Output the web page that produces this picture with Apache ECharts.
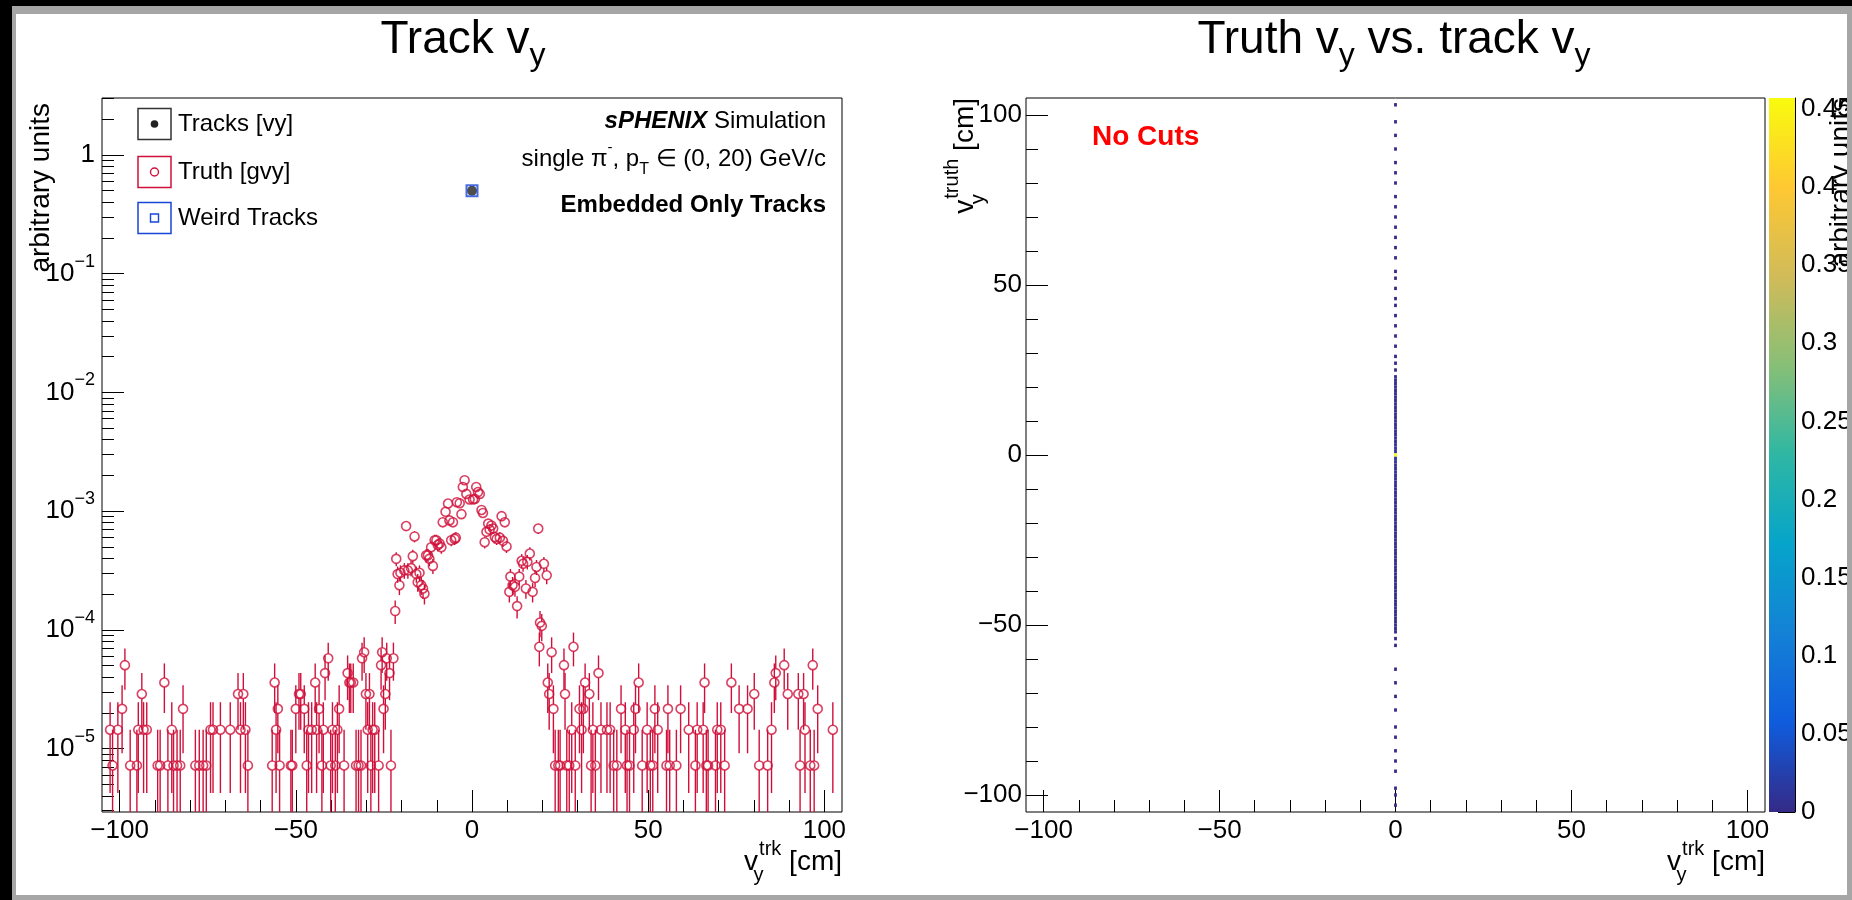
<!DOCTYPE html>
<html>
<head>
<meta charset="utf-8">
<title>Track vy</title>
<script src="https://cdn.jsdelivr.net/npm/echarts@6.0.0/dist/echarts.min.js"></script>
<style>
  html, body { margin: 0; padding: 0; background: #000; }
  #chart { width: 1852px; height: 900px; }
</style>
</head>
<body>
<div id="chart"></div>
<script>
// ---------------- axis ticks ----------------
const xMajorTicks = [-100, -50, 0, 50, 100];
const xMinorTicks = [-100, -90, -80, -70, -60, -50, -40, -30, -20, -10, 0, 10, 20, 30, 40, 50, 60, 70, 80, 90, 100];
const logMajorTicks = [1e-5, 1e-4, 1e-3, 1e-2, 1e-1, 1];
const logMinorTicks = [
  3e-6, 4e-6, 5e-6, 6e-6, 7e-6, 8e-6, 9e-6,
  2e-5, 3e-5, 4e-5, 5e-5, 6e-5, 7e-5, 8e-5, 9e-5,
  2e-4, 3e-4, 4e-4, 5e-4, 6e-4, 7e-4, 8e-4, 9e-4,
  2e-3, 3e-3, 4e-3, 5e-3, 6e-3, 7e-3, 8e-3, 9e-3,
  0.02, 0.03, 0.04, 0.05, 0.06, 0.07, 0.08, 0.09,
  0.2, 0.3, 0.4, 0.5, 0.6, 0.7, 0.8, 0.9,
  2, 3
];
const zTicks = [0, 0.05, 0.1, 0.15, 0.2, 0.25, 0.3, 0.35, 0.4, 0.45];

// ---------------- left panel: 1D vy histograms ----------------
// weight of a single entry in the normalised truth histogram
const entryWeight = 7.2e-6;
// truth vy: [bin centre (cm), entries]
const truthBins = [
  [-102.7, 2], [-102.0, 1], [-100.5, 2], [-99.3, 3], [-98.5, 7], [-97.0, 1], [-95.1, 1], [-94.7, 2],
  [-93.7, 4], [-93.2, 2], [-92.3, 2], [-89.2, 1], [-88.5, 1], [-87.3, 5], [-86.3, 1], [-85.2, 2],
  [-84.7, 1], [-83.7, 1], [-82.8, 1], [-82.0, 3], [-78.5, 1], [-77.4, 1], [-76.3, 1], [-75.4, 1],
  [-74.2, 2], [-73.5, 2], [-71.4, 2], [-68.6, 2], [-66.4, 4], [-65.7, 2], [-64.9, 4], [-64.3, 2],
  [-63.6, 1], [-56.7, 1], [-56.0, 5], [-55.6, 2], [-55.1, 3], [-54.6, 1], [-51.4, 1], [-51.0, 1],
  [-50.0, 3], [-49.1, 4], [-48.6, 4], [-47.6, 3], [-46.9, 1], [-46.4, 2], [-45.5, 2], [-44.5, 5],
  [-44.1, 2], [-43.4, 3], [-42.6, 1], [-42.2, 2], [-41.7, 6], [-40.8, 8], [-40.1, 1], [-39.6, 2],
  [-38.8, 1], [-38.2, 2], [-37.7, 3], [-36.3, 1], [-35.3, 6], [-34.8, 5], [-34.4, 5], [-33.7, 5],
  [-32.9, 1], [-32.2, 1], [-31.5, 1], [-31.2, 8], [-30.6, 9], [-30.1, 4], [-29.6, 2], [-29.1, 4],
  [-28.7, 1], [-28.2, 2], [-27.6, 2], [-26.5, 1], [-25.8, 7], [-25.5, 9], [-25.1, 3], [-24.6, 4],
  [-24.2, 8], [-23.4, 6], [-23.0, 1], [-22.3, 8], [-21.8, 20], [-21.5, 55], [-21.1, 41], [-20.6, 33],
  [-20.3, 42], [-19.2, 44], [-18.7, 104], [-18.2, 44], [-17.3, 46], [-16.8, 58], [-16.3, 85], [-15.8, 41],
  [-15.4, 35], [-14.9, 42], [-14.4, 33], [-13.9, 31], [-13.5, 28],
  [-13.0, 59], [-12.5, 59], [-12.1, 55], [-11.6, 69], [-11.1, 48], [-10.6, 79], [-10.1, 79], [-9.7, 72],
  [-9.2, 74], [-8.7, 69], [-8.3, 112], [-7.5, 137], [-6.8, 161], [-6.4, 116], [-5.9, 79], [-5.4, 112],
  [-4.9, 81], [-4.6, 83], [-4.3, 165], [-3.5, 162], [-3.0, 131], [-2.6, 222], [-2.1, 253], [-1.6, 194],
  [-0.7, 174], [0.3, 174], [0.8, 176], [1.2, 222], [1.7, 201], [2.2, 194], [2.7, 142], [3.1, 134],
  [3.6, 76], [4.1, 93], [4.6, 109], [5.0, 97], [5.5, 105], [6.0, 99], [6.5, 84], [7.0, 81],
  [7.9, 83], [8.4, 126], [8.8, 78], [9.3, 112], [9.8, 70], [10.6, 29], [10.9, 39], [11.5, 33],
  [12.2, 32], [12.8, 22], [13.4, 39], [14.1, 53], [14.5, 50], [15.3, 31], [15.7, 52], [16.4, 61],
  [17.2, 29], [17.9, 38], [18.3, 47], [18.8, 99], [19.1, 10], [19.3, 16], [19.8, 15], [20.4, 50],
  [21.2, 40],
  [21.5, 5], [21.9, 4], [22.6, 9], [23.1, 3], [23.6, 1], [24.5, 1], [25.0, 1], [26.1, 7],
  [26.4, 4], [26.9, 1], [27.6, 1], [28.3, 2], [28.8, 10], [29.3, 1], [30.5, 3], [31.1, 2],
  [31.6, 3], [32.1, 5], [33.3, 4], [33.8, 1], [34.3, 2], [35.0, 1], [35.9, 6], [36.6, 2],
  [38.3, 2], [39.2, 2], [40.2, 1], [41.1, 1], [42.3, 3], [43.5, 2], [44.0, 1], [44.7, 1],
  [45.9, 2], [46.4, 3], [47.3, 5], [48.3, 1], [49.7, 2], [50.6, 1], [51.3, 1], [51.9, 3],
  [52.7, 2], [55.2, 1], [55.6, 3], [56.1, 1], [58.0, 1], [59.2, 3], [61.5, 2], [63.4, 1],
  [63.9, 2], [65.6, 2], [66.0, 5], [66.5, 1], [67.0, 1], [69.1, 1], [69.6, 2], [70.6, 2],
  [71.7, 1], [73.6, 5], [75.8, 3], [78.2, 3], [80.1, 4], [81.5, 1], [83.9, 1], [85.0, 2],
  [85.8, 5], [86.2, 6], [88.6, 7], [89.6, 4], [92.6, 4], [93.1, 1], [94.1, 4], [94.5, 2],
  [96.0, 1], [96.7, 7], [97.1, 1], [98.1, 3], [102.4, 2]
];
// reconstructed tracks: [vy (cm), fraction]
const tracksPoints = [[0, 0.5]];
const weirdPoints = [[0, 0.5]];

// ---------------- right panel: truth vy vs. track vy ----------------
const trackBinX = 0;
// cells of the column at track vy = 0: [truth vy bin centre (cm), fraction]
const cellsAtZero = [
  [103, 0.0005], [98, 0.0005], [94, 0.0005], [90, 0.0005], [86, 0.0005], [83, 0.0005], [80, 0.0005],
  [76, 0.0005], [73, 0.0005], [70, 0.0005], [67, 0.0005], [64, 0.0005], [61, 0.0005], [58, 0.0005],
  [54, 0.0005], [52, 0.0005], [49, 0.0005], [46, 0.0005], [44, 0.0005], [41, 0.0005], [38, 0.0005],
  [35, 0.0005], [32, 0.0005], [29, 0.0005], [27, 0.0005], [25, 0.0005],
  [23, 0.001], [22, 0.001], [21, 0.002], [20, 0.001], [19, 0.002], [18, 0.002], [17, 0.002], [16, 0.003],
  [15, 0.002], [14, 0.003], [13, 0.003], [12, 0.004], [11, 0.003], [10, 0.004], [9, 0.004], [8, 0.005],
  [7, 0.005], [6, 0.006], [5, 0.006], [4, 0.007], [3, 0.008], [2, 0.009], [1, 0.012], [0, 0.457],
  [-1, 0.012], [-2, 0.009], [-3, 0.008], [-4, 0.008], [-5, 0.007], [-6, 0.006], [-7, 0.006], [-8, 0.006],
  [-9, 0.005], [-10, 0.005], [-11, 0.005], [-12, 0.004], [-13, 0.004], [-14, 0.004], [-15, 0.004],
  [-16, 0.003], [-17, 0.003], [-18, 0.003], [-19, 0.003], [-20, 0.003], [-21, 0.003], [-22, 0.002],
  [-23, 0.002], [-24, 0.002], [-25, 0.002], [-26, 0.002], [-27, 0.002], [-28, 0.002], [-29, 0.002],
  [-30, 0.002], [-31, 0.002], [-32, 0.002], [-33, 0.001], [-34, 0.002], [-35, 0.001], [-36, 0.001],
  [-37, 0.002], [-38, 0.001], [-39, 0.001], [-40, 0.001], [-41, 0.001], [-42, 0.001], [-43, 0.001],
  [-44, 0.001], [-45, 0.001], [-46, 0.001], [-47, 0.001], [-48, 0.001], [-49, 0.001], [-50, 0.001],
  [-51, 0.001], [-52, 0.001],
  [-54, 0.0005], [-56, 0.0005], [-63, 0.0005], [-67, 0.0005], [-71, 0.0005], [-75, 0.0005], [-80, 0.0005],
  [-83, 0.0005], [-87, 0.0005], [-90, 0.0005], [-93, 0.0005], [-98, 0.0005], [-100, 0.0005], [-103, 0.0005]
];
const zMax = 0.457;
// kBird palette stops
const birdPalette = ['#352a87', '#0f5cdd', '#1481d6', '#06a4ca', '#2eb7a4', '#87bf77', '#d1bb59', '#fec832', '#f9fb0e'];

// ---------------- styling ----------------
const FONT = "'Liberation Sans', Arial, Helvetica, sans-serif";
const RED = '#d0103a';
const BLUE = '#1846d8';
const DARK = '#222222';
const LOG_MIN = 2.92e-6;
const LOG_MAX = 3.02;
const CELL_HALF_W = 0.4;
const CELL_HALF_H = 0.5;
const MARKER_R = 4.5;

const minusSign = v => String(v).replace('-', '\u2212');
const tickLine = { color: '#000', width: 1 };
const labelFont = { color: '#000', fontFamily: FONT, fontSize: 26 };

const truthPoints = truthBins.map(([x, n]) => [x, n * entryWeight, Math.sqrt(n) * entryWeight]);
const heatCells = cellsAtZero.map(([y, w]) => [trackBinX, y, w]);

function majorXAxis(gridIndex) {
  return {
    gridIndex, type: 'value', min: -105, max: 105, position: 'bottom',
    axisLine: { show: false, onZero: false },
    splitLine: { show: false },
    axisTick: { inside: true, length: 22, customValues: xMajorTicks, lineStyle: tickLine },
    axisLabel: Object.assign({ customValues: xMajorTicks, margin: 6, formatter: minusSign }, labelFont)
  };
}
function minorXAxis(gridIndex) {
  return {
    gridIndex, type: 'value', min: -105, max: 105, position: 'bottom', offset: 0,
    axisLine: { show: false, onZero: false },
    splitLine: { show: false },
    axisTick: { inside: true, length: 12, customValues: xMinorTicks, lineStyle: tickLine },
    axisLabel: { show: false }
  };
}

const chart = echarts.init(document.getElementById('chart'), null, { renderer: 'canvas', width: 1852, height: 900 });

// small helper for free text
function label(x, y, text, style, extra) {
  return Object.assign({
    type: 'text', x, y, z: 40,
    style: Object.assign({ text, fill: '#000', fontFamily: FONT, fontSize: 24, align: 'left', verticalAlign: 'middle' }, style)
  }, extra || {});
}

const richTitle = {
  a: { fontSize: 46, fontFamily: FONT, lineHeight: 64, fill: '#000' },
  s: { fontSize: 32, fontFamily: FONT, lineHeight: 32, verticalAlign: 'bottom', fill: '#000' }
};
// "v" with stacked subscript / superscript: the subscript token is 1px wide so the
// superscript starts at the same place
const richAxisTitle = {
  v: { fontSize: 28, fontFamily: FONT, lineHeight: 46, fill: '#000' },
  d: { fontSize: 20, fontFamily: FONT, lineHeight: 20, verticalAlign: 'bottom', width: 1, align: 'left', fill: '#000' },
  u: { fontSize: 20, fontFamily: FONT, lineHeight: 20, verticalAlign: 'top', align: 'left', fill: '#000' }
};
const richInfo = {
  n: { fontSize: 24, fontFamily: FONT, lineHeight: 38, fill: '#000' },
  bi: { fontSize: 24, fontFamily: FONT, fontWeight: 'bold', fontStyle: 'italic', lineHeight: 38, fill: '#000' },
  u: { fontSize: 15, fontFamily: FONT, lineHeight: 15, verticalAlign: 'top', fill: '#000' },
  d: { fontSize: 16, fontFamily: FONT, lineHeight: 16, verticalAlign: 'bottom', fill: '#000' }
};

const legendRows = [
  { y: 124, text: 'Tracks [vy]', box: '#333333' },
  { y: 172, text: 'Truth [gvy]', box: RED },
  { y: 218, text: 'Weird Tracks', box: BLUE }
];
const legendGraphics = [];
legendRows.forEach(row => {
  legendGraphics.push({ type: 'rect', z: 40, shape: { x: 138, y: row.y - 15.5, width: 33, height: 31 }, style: { fill: 'none', stroke: row.box, lineWidth: 1.5 } });
  legendGraphics.push(label(178, row.y, row.text));
});
legendGraphics.push({ type: 'circle', z: 41, shape: { cx: 154.5, cy: 124, r: 3.8 }, style: { fill: DARK } });
legendGraphics.push({ type: 'circle', z: 41, shape: { cx: 154.5, cy: 172, r: 4 }, style: { fill: 'none', stroke: RED, lineWidth: 1.4 } });
legendGraphics.push({ type: 'rect', z: 41, shape: { x: 150.5, y: 214, width: 8, height: 8 }, style: { fill: 'none', stroke: BLUE, lineWidth: 1.4 } });

const frameBands = [
  { type: 'rect', z: 100, shape: { x: 0, y: 0, width: 1852, height: 6 }, style: { fill: '#000' } },
  { type: 'rect', z: 100, shape: { x: 0, y: 0, width: 12, height: 900 }, style: { fill: '#000' } },
  { type: 'rect', z: 100, shape: { x: 12, y: 6, width: 1840, height: 8 }, style: { fill: '#a6a6a6' } },
  { type: 'rect', z: 100, shape: { x: 12, y: 6, width: 4, height: 894 }, style: { fill: '#a6a6a6' } },
  { type: 'rect', z: 100, shape: { x: 1847, y: 6, width: 5, height: 894 }, style: { fill: '#a6a6a6' } },
  { type: 'rect', z: 100, shape: { x: 12, y: 895, width: 1840, height: 5 }, style: { fill: '#a6a6a6' } }
];

const option = {
  animation: false,
  backgroundColor: '#ffffff',
  grid: [
    { left: 102, top: 98, width: 740, height: 714, show: true, borderColor: '#000', borderWidth: 1, backgroundColor: 'transparent', outerBoundsMode: 'none' },
    { left: 1026, top: 98, width: 739, height: 714, show: true, borderColor: '#000', borderWidth: 1, backgroundColor: 'transparent', outerBoundsMode: 'none' },
    { left: 1769, top: 98, width: 26, height: 714, show: false, outerBoundsMode: 'none' }
  ],
  xAxis: [
    majorXAxis(0), minorXAxis(0),
    majorXAxis(1), minorXAxis(1),
    { gridIndex: 2, type: 'value', min: 0, max: 1, show: false }
  ],
  yAxis: [
    {
      gridIndex: 0, type: 'log', logBase: 10, min: LOG_MIN, max: LOG_MAX, position: 'left',
      axisLine: { show: false, onZero: false }, splitLine: { show: false },
      axisTick: { inside: true, length: 22, customValues: logMajorTicks, lineStyle: tickLine },
      axisLabel: {
        customValues: logMajorTicks, margin: 7,
        formatter: v => {
          const e = Math.round(Math.log10(v));
          return e === 0 ? '{b|1}' : '{b|10}{e|\u2212' + (-e) + '}';
        },
        rich: {
          b: { color: '#000', fontFamily: FONT, fontSize: 26, lineHeight: 42 },
          e: { color: '#000', fontFamily: FONT, fontSize: 18, lineHeight: 18, verticalAlign: 'top' }
        }
      }
    },
    {
      gridIndex: 0, type: 'log', logBase: 10, min: LOG_MIN, max: LOG_MAX, position: 'left', offset: 0,
      axisLine: { show: false, onZero: false }, splitLine: { show: false },
      axisTick: { inside: true, length: 12, customValues: logMinorTicks, lineStyle: tickLine },
      axisLabel: { show: false }
    },
    {
      gridIndex: 1, type: 'value', min: -105, max: 105, position: 'left',
      axisLine: { show: false, onZero: false }, splitLine: { show: false },
      axisTick: { inside: true, length: 22, customValues: xMajorTicks, lineStyle: tickLine },
      axisLabel: Object.assign({ customValues: xMajorTicks, margin: 4, formatter: minusSign }, labelFont)
    },
    {
      gridIndex: 1, type: 'value', min: -105, max: 105, position: 'left', offset: 0,
      axisLine: { show: false, onZero: false }, splitLine: { show: false },
      axisTick: { inside: true, length: 12, customValues: xMinorTicks, lineStyle: tickLine },
      axisLabel: { show: false }
    },
    {
      gridIndex: 2, type: 'value', min: 0, max: zMax, position: 'right',
      axisLine: { show: true, onZero: false, lineStyle: tickLine }, splitLine: { show: false },
      axisTick: { inside: true, length: 17, customValues: zTicks, lineStyle: tickLine },
      axisLabel: Object.assign({ customValues: zTicks, margin: 6, formatter: v => String(Math.round(v * 100) / 100) }, labelFont)
    }
  ],
  visualMap: {
    type: 'continuous', show: false, min: 0, max: zMax, dimension: 2, seriesIndex: 4,
    inRange: { color: birdPalette }
  },
  series: [
    {
      // vertical Poisson error bars of the truth histogram
      name: 'Truth errors', type: 'custom', xAxisIndex: 0, yAxisIndex: 0,
      dimensions: ['x', 'y', 'err'], encode: { x: 0, y: 1 }, silent: true,
      data: truthPoints,
      renderItem: (params, api) => {
        const x = api.value(0), y = api.value(1), e = api.value(2);
        const cs = params.coordSys;
        const c = api.coord([x, y]);
        const top = Math.max(cs.y, api.coord([x, y + e])[1]);
        const bottom = (y - e) > 1e-12 ? Math.min(cs.y + cs.height, api.coord([x, y - e])[1]) : cs.y + cs.height;
        const children = [];
        const st = { stroke: RED, lineWidth: 1.4 };
        if (c[1] - MARKER_R > top) children.push({ type: 'line', shape: { x1: c[0], y1: top, x2: c[0], y2: c[1] - MARKER_R }, style: st });
        if (bottom > c[1] + MARKER_R) children.push({ type: 'line', shape: { x1: c[0], y1: c[1] + MARKER_R, x2: c[0], y2: bottom }, style: st });
        return { type: 'group', children };
      }
    },
    {
      name: 'Truth [gvy]', type: 'scatter', xAxisIndex: 0, yAxisIndex: 0, silent: true,
      data: truthPoints.map(p => [p[0], p[1]]),
      symbol: 'circle', symbolSize: 9,
      itemStyle: { color: 'rgba(255,255,255,0)', borderColor: RED, borderWidth: 1.6 }
    },
    {
      name: 'Tracks [vy]', type: 'scatter', xAxisIndex: 0, yAxisIndex: 0, silent: true,
      data: tracksPoints, symbol: 'circle', symbolSize: 10,
      itemStyle: { color: DARK }
    },
    {
      name: 'Weird Tracks', type: 'scatter', xAxisIndex: 0, yAxisIndex: 0, silent: true,
      data: weirdPoints, symbol: 'rect', symbolSize: 11,
      itemStyle: { color: 'rgba(255,255,255,0)', borderColor: BLUE, borderWidth: 2 }
    },
    {
      // 2D histogram cells
      name: 'truth vs track', type: 'custom', xAxisIndex: 2, yAxisIndex: 2, silent: true,
      dimensions: ['x', 'y', 'z'], encode: { x: 0, y: 1 },
      data: heatCells,
      renderItem: (params, api) => {
        const x = api.value(0), y = api.value(1);
        const p0 = api.coord([x - CELL_HALF_W, y + CELL_HALF_H]);
        const p1 = api.coord([x + CELL_HALF_W, y - CELL_HALF_H]);
        return { type: 'rect', shape: { x: p0[0], y: p0[1], width: p1[0] - p0[0], height: p1[1] - p0[1] }, style: { fill: api.visual('color') } };
      }
    },
    {
      // colour scale bar
      name: 'palette', type: 'custom', xAxisIndex: 4, yAxisIndex: 4, silent: true,
      data: [[0, zMax]],
      renderItem: (params, api) => {
        const p0 = api.coord([0, api.value(1)]);
        const p1 = api.coord([1, 0]);
        const stops = birdPalette.map((c, i) => ({ offset: i / (birdPalette.length - 1), color: c }));
        return {
          type: 'rect',
          shape: { x: p0[0], y: p0[1], width: p1[0] - p0[0], height: p1[1] - p0[1] },
          style: { fill: new echarts.graphic.LinearGradient(0, 1, 0, 0, stops) }
        };
      }
    }
  ],
  graphic: {
    elements: [
      // titles
      label(463, 40, '{a|Track v}{s|y}', { align: 'center', rich: richTitle }),
      label(1394, 40, '{a|Truth v}{s|y}{a| vs. track v}{s|y}', { align: 'center', rich: richTitle }),
      // axis titles, left panel
      label(842, 862, '{v|v}{d|y}{u|trk}{v| [cm]}', { align: 'right', rich: richAxisTitle }),
      label(41, 103, 'arbitrary units', { align: 'right', fontSize: 28 }, { rotation: Math.PI / 2 }),
      // axis titles, right panel
      label(1765, 862, '{v|v}{d|y}{u|trk}{v| [cm]}', { align: 'right', rich: richAxisTitle }),
      label(965, 98, '{v|v}{d|y}{u|truth}{v| [cm]}', { align: 'right', rich: richAxisTitle }, { rotation: Math.PI / 2 }),
      label(1841, 98, 'arbitrary units', { align: 'right', fontSize: 28 }, { rotation: Math.PI / 2, z: 45 }),
      // annotation block
      label(826, 121, '{bi|sPHENIX} {n|Simulation}', { align: 'right', rich: richInfo }),
      label(826, 159, '{n|single \u03c0}{u|-}{n|, p}{d|T}{n| \u2208 (0, 20) GeV/c}', { align: 'right', rich: richInfo }),
      label(826, 205, 'Embedded Only Tracks', { align: 'right', fontWeight: 'bold', fontSize: 24 }),
      label(1092, 137, 'No Cuts', { fill: '#ff0000', fontWeight: 'bold', fontSize: 28 })
    ].concat(legendGraphics, frameBands)
  }
};

chart.setOption(option);
</script>
</body>
</html>
